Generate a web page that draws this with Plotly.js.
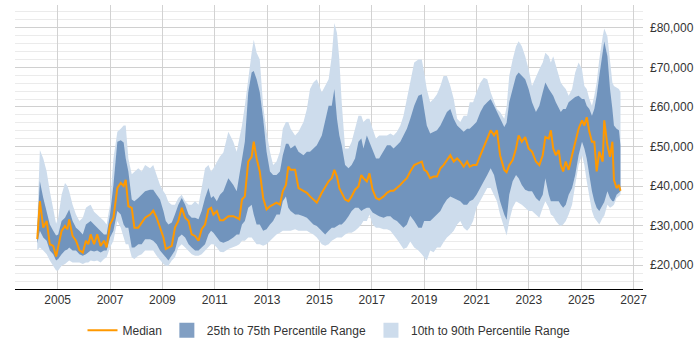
<!DOCTYPE html>
<html>
<head>
<meta charset="utf-8">
<script src="https://cdn.plot.ly/plotly-3.0.1.min.js"></script>
<style>
  html, body { margin: 0; padding: 0; background: #fff; }
  #chart { width: 700px; height: 350px; }
</style>
</head>
<body>
<div id="chart"></div>
<script>
// Sample dates as decimal years
const years = [
  2004.22, 2004.32, 2004.45, 2004.58, 2004.70, 2004.83, 2004.94, 2005.02, 2005.15, 2005.28,
  2005.37, 2005.44, 2005.57, 2005.70, 2005.83, 2005.96, 2006.08, 2006.17, 2006.26, 2006.39,
  2006.51, 2006.64, 2006.77, 2006.87, 2007.00, 2007.13, 2007.28, 2007.41, 2007.52, 2007.60,
  2007.70, 2007.83, 2007.93, 2008.08, 2008.21, 2008.34, 2008.53, 2008.65, 2008.78, 2008.91,
  2009.04, 2009.13, 2009.23, 2009.36, 2009.48, 2009.61, 2009.74, 2009.87, 2010.00, 2010.12,
  2010.25, 2010.38, 2010.50, 2010.63, 2010.76, 2010.86, 2010.95, 2011.08, 2011.20, 2011.33,
  2011.52, 2011.71, 2011.84, 2011.94, 2012.04, 2012.15, 2012.28, 2012.41, 2012.49, 2012.60,
  2012.72, 2012.85, 2012.98, 2013.11, 2013.23, 2013.36, 2013.49, 2013.60, 2013.72, 2013.81,
  2013.90, 2014.07, 2014.20, 2014.39, 2014.52, 2014.64, 2014.77, 2014.90, 2015.09, 2015.22,
  2015.35, 2015.47, 2015.57, 2015.67, 2015.76, 2015.85, 2015.98, 2016.11, 2016.23, 2016.36,
  2016.49, 2016.60, 2016.68, 2016.81, 2016.91, 2017.03, 2017.16, 2017.28, 2017.45, 2017.58,
  2017.71, 2017.83, 2017.96, 2018.09, 2018.21, 2018.34, 2018.47, 2018.62, 2018.78, 2018.91,
  2019.00, 2019.10, 2019.23, 2019.36, 2019.49, 2019.62, 2019.74, 2019.87, 2020.00, 2020.13,
  2020.26, 2020.38, 2020.51, 2020.64, 2020.74, 2020.87, 2021.00, 2021.15, 2021.28, 2021.41,
  2021.54, 2021.67, 2021.78, 2021.90, 2022.06, 2022.15, 2022.25, 2022.38, 2022.51, 2022.61,
  2022.73, 2022.86, 2022.99, 2023.12, 2023.27, 2023.40, 2023.53, 2023.63, 2023.76, 2023.84,
  2023.93, 2024.03, 2024.14, 2024.22, 2024.31, 2024.41, 2024.52, 2024.65, 2024.77, 2024.90,
  2025.03, 2025.12, 2025.21, 2025.31, 2025.41, 2025.50, 2025.59, 2025.69, 2025.82, 2025.88,
  2026.00, 2026.10, 2026.19, 2026.25, 2026.35, 2026.44, 2026.50
];

// Median salary
const median = [
  26600, 36200, 29500, 31200, 25300, 24900, 22200, 24500, 28700, 29900,
  29100, 31600, 27400, 26200, 23800, 23200, 26200, 25300, 27800, 25300,
  27800, 24900, 26200, 24500, 30300, 32000, 39500, 40800, 40000, 41600,
  34900, 34500, 29500, 29500, 30800, 32000, 32800, 33800, 32000, 29500,
  27000, 24100, 24500, 24900, 29500, 31200, 34500, 32000, 31200, 27800,
  27400, 26200, 29100, 30300, 34100, 34500, 32800, 33700, 31400, 31400,
  32400, 32400, 32000, 31600, 36600, 37400, 46200, 47400, 51200, 47000,
  43700, 37000, 34100, 34900, 35300, 35800, 35300, 38700, 40300, 44900,
  44100, 44100, 39500, 38700, 38300, 37400, 36600, 35800, 38300, 39900,
  41200, 42000, 44100, 42400, 39500, 38300, 36600, 36200, 37400, 39100,
  39900, 42800, 42000, 41200, 43200, 39100, 37000, 36600, 37400, 38300,
  38800, 38800, 39500, 40300, 41200, 42000, 43700, 45300, 45800, 46200,
  44100, 43700, 42000, 42400, 42400, 44500, 45300, 46600, 47800, 46200,
  47000, 46200, 44900, 46200, 44900, 45300, 45300, 47800, 49900, 52400,
  54100, 52800, 54100, 47800, 44100, 43500, 45300, 46600, 49500, 52800,
  51200, 52400, 49500, 48700, 46200, 45300, 47800, 52400, 52000, 54100,
  49500, 47800, 49100, 45300, 43700, 46200, 44100, 47800, 51200, 54500,
  56600, 55300, 57400, 53700, 51200, 51200, 43700, 48700, 46200, 56600,
  50300, 47400, 51200, 41600, 39500, 40300, 38800
];

// 10th percentile
const p10 = [
  23800, 24500, 23700, 22800, 21200, 19900, 18700, 18700, 19900, 20300,
  20700, 21200, 20700, 20700, 20700, 20300, 20700, 20700, 21200, 21000,
  21200, 20700, 21600, 22000, 24500, 26200, 31200, 29500, 27000, 25300,
  25300, 22000, 21600, 22400, 22800, 23700, 23700, 23700, 22400, 21200,
  20300, 19900, 19900, 21200, 22000, 24500, 25300, 24500, 23700, 22800,
  22400, 22400, 22800, 23700, 24500, 25300, 25300, 24500, 23400, 23300,
  24100, 24500, 24900, 25300, 26200, 26200, 27000, 27000, 26200, 25300,
  25300, 24900, 25300, 26200, 27000, 27800, 28200, 28700, 28700, 28700,
  28700, 29100, 28700, 28700, 28700, 28200, 27800, 27000, 25300, 24900,
  25300, 26200, 26600, 27000, 27000, 27000, 27800, 28200, 28200, 28700,
  29500, 30300, 31200, 31200, 32800, 30300, 29500, 29500, 29100, 29100,
  28700, 27800, 26600, 25300, 24100, 24500, 26000, 24500, 23700, 22800,
  22000, 21200, 23700, 23300, 24500, 24500, 25800, 27000, 27800, 28700,
  30300, 31200, 29500, 28700, 29500, 31200, 34500, 36200, 37800, 39500,
  39500, 37800, 36200, 32800, 29500, 27500, 31200, 34500, 36200, 35800,
  35300, 34500, 33700, 33700, 32800, 32000, 34500, 36200, 34500, 32800,
  32400, 31200, 30300, 29900, 30300, 31200, 32800, 35300, 40300, 45300,
  47800, 45300, 41200, 37800, 33700, 32000, 31200, 30300, 32000, 32500,
  35300, 34500, 34900, 35300, 37000, 37400, 37800
];

// 25th percentile
const p25 = [
  25500, 28700, 27000, 26200, 23700, 22800, 21200, 21600, 22800, 23700,
  24000, 24500, 23700, 23700, 22800, 22400, 22800, 23200, 23700, 23500,
  23700, 23200, 23700, 23700, 27000, 28700, 33700, 32800, 30300, 29500,
  29500, 24500, 24500, 25300, 25300, 26600, 26600, 26200, 25300, 23700,
  22800, 22000, 21200, 22400, 23700, 27000, 27800, 27000, 25300, 24500,
  23700, 23700, 24500, 25300, 27800, 28700, 28200, 27000, 26000, 25700,
  26200, 27000, 27800, 27800, 30300, 31200, 34500, 35300, 32800, 30300,
  30300, 28700, 29100, 30300, 31200, 32800, 32800, 36200, 37400, 34500,
  33700, 32800, 32800, 32400, 32000, 31200, 30300, 29900, 28700, 27800,
  28700, 29500, 29500, 29900, 30300, 30300, 31200, 32400, 33700, 34500,
  34500, 33700, 34100, 34500, 34500, 33300, 32800, 32400, 32000, 32400,
  32400, 31600, 31200, 30300, 29500, 30300, 32500, 31200, 29500, 29500,
  31200, 31200, 31200, 32000, 32800, 33700, 35300, 36600, 37400, 37000,
  36600, 36200, 35300, 35300, 36200, 36600, 37800, 39500, 41200, 42800,
  44500, 42800, 39500, 36200, 32800, 31500, 37800, 41200, 42800, 42000,
  40300, 39100, 38700, 38700, 37000, 36200, 37800, 42000, 37800, 36200,
  36200, 36200, 36200, 35300, 34500, 35300, 37800, 39500, 42800, 47800,
  51200, 49500, 47000, 42800, 38700, 36200, 34500, 33700, 35300, 36000,
  38700, 37000, 36200, 36200, 37800, 38300, 38700
];

// 75th percentile
const p75 = [
  28500, 41200, 37000, 33700, 30300, 28700, 27500, 27800, 31200, 32000,
  33000, 34100, 31200, 29500, 28700, 27800, 30300, 30800, 31200, 30300,
  29500, 28700, 27800, 27800, 32800, 40300, 51200, 51600, 51000, 47000,
  43700, 36600, 36200, 37000, 37800, 38700, 39100, 39100, 37800, 36600,
  33700, 31200, 30300, 30800, 32800, 35300, 37000, 35300, 32800, 32000,
  32000, 31600, 33700, 37000, 39500, 37000, 37500, 36200, 37800, 38700,
  42000, 40300, 38700, 42800, 47000, 51200, 63700, 68700, 69100, 67000,
  63700, 57000, 48700, 43700, 42800, 42800, 43700, 47800, 50700, 50700,
  49500, 50300, 48700, 47800, 48700, 48700, 49500, 50300, 52800, 57000,
  60300, 60300, 64500, 57000, 52800, 50300, 45300, 44500, 45300, 47000,
  51200, 52000, 49500, 52800, 51200, 49500, 47000, 47000, 48700, 50300,
  50300, 49500, 50300, 51200, 52800, 54500, 57000, 60300, 62800, 63200,
  59500, 55300, 53300, 53700, 54100, 55300, 57000, 58700, 59500, 57000,
  55300, 54500, 53700, 54500, 54500, 55300, 56200, 58700, 60300, 61200,
  62000, 60300, 58700, 57000, 54900, 56000, 61200, 64500, 67800, 68700,
  67800, 67000, 64500, 61200, 58700, 60300, 63700, 66200, 64500, 63700,
  62800, 61200, 59500, 58700, 59500, 59500, 61200, 62000, 62500, 62800,
  62000, 62000, 60300, 59500, 57800, 59500, 62800, 67800, 73700, 76500,
  72800, 64500, 59500, 55300, 54500, 54100, 50300
];

// 90th percentile
const p90 = [
  30500, 49100, 47000, 43700, 38700, 34500, 30500, 32000, 37800, 40800,
  40000, 38700, 35300, 32800, 31200, 32000, 34500, 35000, 35300, 33500,
  32800, 32000, 31200, 30300, 35300, 47000, 53700, 54500, 55300, 55300,
  47000, 43000, 43700, 44500, 43700, 45300, 44500, 45300, 42800, 40300,
  38700, 37800, 36000, 35300, 35300, 37000, 37800, 36200, 35300, 35300,
  36200, 35300, 39500, 44500, 45300, 43700, 44500, 46200, 47500, 48500,
  53700, 51200, 48700, 52000, 55300, 60300, 67800, 73700, 77000, 73700,
  72000, 60300, 53700, 48700, 45300, 46200, 48700, 54500, 56200, 56200,
  54500, 52800, 53700, 56200, 59500, 64500, 66200, 67000, 63700, 65300,
  67000, 72800, 81200, 78700, 72000, 61200, 49500, 49500, 51200, 54500,
  57800, 57800, 56200, 57000, 57000, 54500, 52000, 52800, 52800, 52800,
  53300, 52800, 53700, 55300, 57800, 62000, 66000, 71200, 72000, 72000,
  68700, 64500, 61200, 62000, 63200, 65300, 67800, 67800, 65300, 62000,
  57000, 56200, 57800, 57800, 61200, 61200, 63700, 66200, 67400, 67000,
  63700, 61200, 59500, 58700, 57000, 60000, 67800, 72000, 75300, 76600,
  75300, 72800, 69500, 65300, 67800, 69500, 71200, 73700, 72800, 71200,
  72800, 70300, 67800, 66200, 65300, 64500, 62800, 64500, 68700, 71200,
  69500, 65300, 64500, 62000, 60300, 62800, 66200, 72000, 77800, 79800,
  77800, 72000, 66200, 65300, 64900, 64500, 63700
];

const seriesNames = ['Median', '25th to 75th Percentile Range', '10th to 90th Percentile Range'];

const ORANGE = '#ff9900';
const BAND_INNER = 'rgba(69,114,167,0.68)';
const BAND_OUTER = '#cddcec';

const noLine = { width: 0, color: 'rgba(0,0,0,0)' };

const traces = [
  // outer band: 10th -> 90th
  { x: years, y: p10, type: 'scatter', mode: 'lines', line: noLine,
    showlegend: false, hoverinfo: 'skip' },
  { x: years, y: p90, type: 'scatter', mode: 'lines', line: noLine,
    fill: 'tonexty', fillcolor: BAND_OUTER, showlegend: false, hoverinfo: 'skip' },
  // inner band: 25th -> 75th
  { x: years, y: p25, type: 'scatter', mode: 'lines', line: noLine,
    showlegend: false, hoverinfo: 'skip' },
  { x: years, y: p75, type: 'scatter', mode: 'lines', line: noLine,
    fill: 'tonexty', fillcolor: BAND_INNER, showlegend: false, hoverinfo: 'skip' },
  // median line
  { x: years, y: median, type: 'scatter', mode: 'lines', name: seriesNames[0],
    line: { color: ORANGE, width: 2 }, legendrank: 1 },
  // legend swatches for the two bands
  { x: [null], y: [null], type: 'scatter', mode: 'markers', name: seriesNames[1],
    marker: { symbol: 'square', size: 15, color: BAND_INNER }, legendrank: 2 },
  { x: [null], y: [null], type: 'scatter', mode: 'markers', name: seriesNames[2],
    marker: { symbol: 'square', size: 15, color: BAND_OUTER }, legendrank: 3 }
];

const layout = {
  width: 700,
  height: 350,
  margin: { l: 15, r: 57, t: 5, b: 58 },
  paper_bgcolor: '#ffffff',
  plot_bgcolor: '#ffffff',
  font: { family: '"Liberation Sans", Arial, sans-serif', size: 12, color: '#333333' },
  showlegend: true,
  legend: {
    orientation: 'h',
    traceorder: 'normal',
    x: 0.5, xanchor: 'center',
    y: -0.145, yanchor: 'middle',
    font: { size: 12, color: '#333333' },
    bgcolor: 'rgba(0,0,0,0)'
  },
  xaxis: {
    type: 'linear',
    range: [2003.37, 2027.36],
    tick0: 2005, dtick: 2,
    showgrid: true, gridcolor: '#d2d2d2', gridwidth: 1,
    zeroline: false,
    showline: true, linecolor: '#000000', linewidth: 1,
    ticks: '',
    tickfont: { size: 12, color: '#333333' },
    fixedrange: true
  },
  yaxis: {
    side: 'right',
    range: [14000, 85750],
    tick0: 0, dtick: 10000,
    tickformat: ',d', tickprefix: '£',
    showgrid: true, gridcolor: '#d0d0d0', gridwidth: 1,
    minor: { dtick: 2000, showgrid: true, gridcolor: '#ebebeb', gridwidth: 1 },
    zeroline: false,
    showline: false,
    ticks: '',
    ticklabelstandoff: 6,
    tickfont: { size: 12, color: '#333333' },
    fixedrange: true
  }
};

Plotly.newPlot('chart', traces, layout, { displayModeBar: false, staticPlot: true });
</script>
</body>
</html>
